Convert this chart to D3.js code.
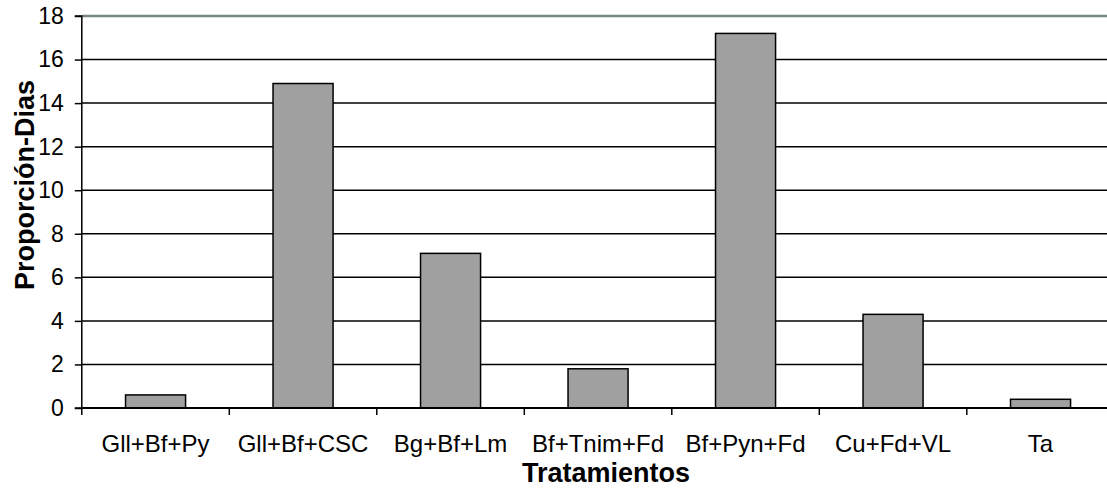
<!DOCTYPE html>
<html>
<head>
<meta charset="utf-8">
<script src="https://cdn.jsdelivr.net/npm/d3@7"></script>
<style>
  html, body { margin: 0; padding: 0; background: #fff; }
  svg { display: block; font-family: "Liberation Sans", Arial, sans-serif; }
</style>
</head>
<body>
<svg id="chart" width="1107" height="489"></svg>
<script>
// Treatments and their proportion-days values
const categories = ["Gll+Bf+Py", "Gll+Bf+CSC", "Bg+Bf+Lm", "Bf+Tnim+Fd", "Bf+Pyn+Fd", "Cu+Fd+VL", "Ta"];
const values = [0.6, 14.9, 7.1, 1.8, 17.2, 4.3, 0.4];
const yTicks = [0, 2, 4, 6, 8, 10, 12, 14, 16, 18];
const xTitle = "Tratamientos";
const yTitle = "Proporción-Dias";

const svg = d3.select("#chart");
const plotLeft = 81.8, plotRight = 1114.3, plotTop = 16, plotBottom = 408;

const x = d3.scaleBand().domain(categories).range([plotLeft, plotRight]).paddingInner(0.593).paddingOuter(0.2965);
const xb = d3.scaleBand().domain(categories).range([plotLeft, plotRight]);
const y = d3.scaleLinear().domain([0, 18]).range([plotBottom, plotTop]);

// horizontal gridlines
svg.append("g").selectAll("line")
  .data(yTicks.filter(d => d > 0))
  .join("line")
  .attr("x1", plotLeft).attr("x2", plotRight)
  .attr("y1", d => y(d)).attr("y2", d => y(d))
  .attr("stroke", d => d === 18 ? "#7a8684" : "#000")
  .attr("stroke-width", d => d === 18 ? 2.5 : 1.5);

// bars
svg.append("g").selectAll("rect")
  .data(values)
  .join("rect")
  .attr("x", (d, i) => x(categories[i]))
  .attr("width", x.bandwidth())
  .attr("y", d => y(d))
  .attr("height", d => y(0) - y(d))
  .attr("fill", "#a0a0a0")
  .attr("stroke", "#000")
  .attr("stroke-width", 1.5);

// y axis
const yAxis = svg.append("g")
  .attr("transform", `translate(${plotLeft},0)`)
  .call(d3.axisLeft(y).tickValues(yTicks).tickSize(7).tickPadding(11).tickFormat(d3.format("d")));
yAxis.select(".domain").attr("stroke", "#000").attr("stroke-width", 1.5).attr("d", `M-7,${plotTop}H0V${plotBottom}H-7`);
yAxis.selectAll(".tick line").attr("stroke", "#000").attr("stroke-width", 1.5);
yAxis.selectAll(".tick text").attr("font-size", 23).attr("fill", "#000").attr("font-family", "Liberation Sans, Arial, sans-serif");

// x axis: baseline with ticks at category boundaries
const xAxis = svg.append("g").attr("transform", `translate(0,${plotBottom})`);
xAxis.append("line").attr("x1", plotLeft).attr("x2", plotRight).attr("stroke", "#000").attr("stroke-width", 2);
xAxis.selectAll("line.tk")
  .data(categories.concat(["_end"]))
  .join("line")
  .attr("class", "tk")
  .attr("x1", (d, i) => plotLeft + i * xb.step()).attr("x2", (d, i) => plotLeft + i * xb.step())
  .attr("y1", 0).attr("y2", 7)
  .attr("stroke", "#000").attr("stroke-width", 1.5);
xAxis.selectAll("text")
  .data(categories)
  .join("text")
  .attr("x", d => xb(d) + xb.bandwidth() / 2)
  .attr("y", 44)
  .attr("text-anchor", "middle")
  .attr("font-size", 24)
  .attr("fill", "#000")
  .text(d => d);

// axis titles
svg.append("text")
  .attr("x", 606).attr("y", 482)
  .attr("text-anchor", "middle")
  .attr("font-size", 27).attr("font-weight", "bold")
  .text(xTitle);

svg.append("text")
  .attr("transform", "translate(34,185) rotate(-90)")
  .attr("text-anchor", "middle")
  .attr("font-size", 27).attr("font-weight", "bold")
  .text(yTitle);
</script>
</body>
</html>
